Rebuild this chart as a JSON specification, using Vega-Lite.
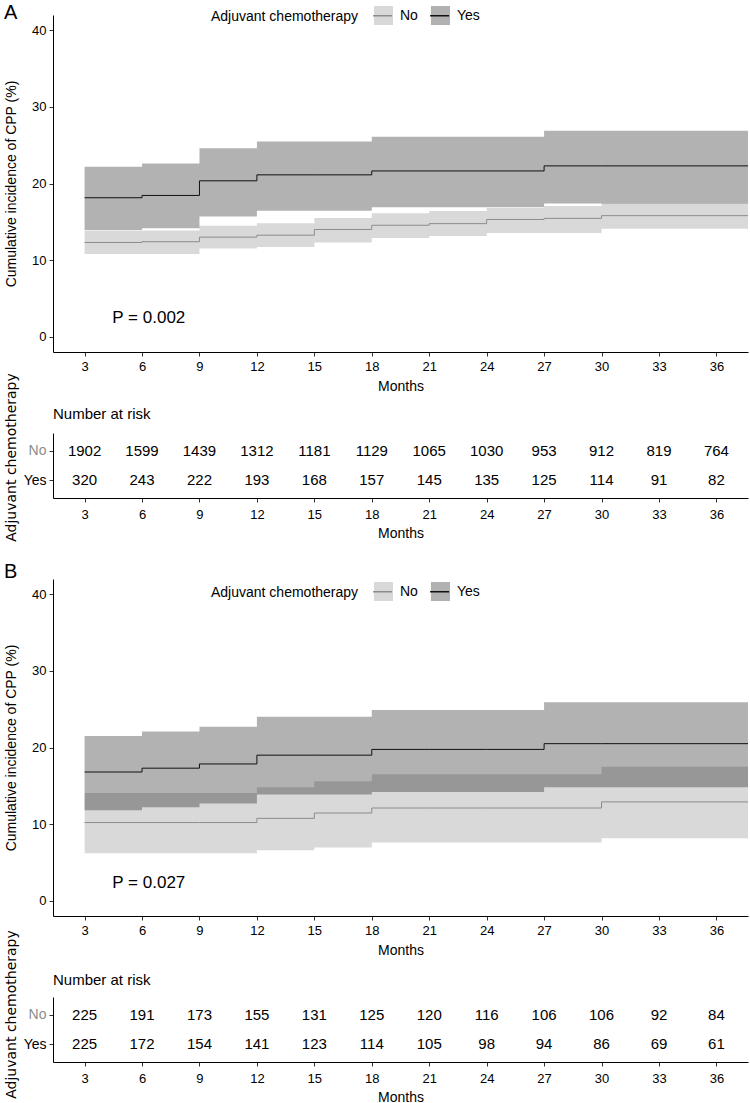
{
  "$schema": "https://vega.github.io/schema/vega-lite/v6.json",
  "background": "white",
  "padding": {"left": 3, "top": 3, "right": 3, "bottom": 3},
  "config": {
    "font": "Liberation Sans",
    "view": {"stroke": null},
    "axis": {"grid": false, "domainColor": "#000000", "domainWidth": 1, "tickColor": "#333333", "tickSize": 4, "labelColor": "#000000", "labelFontSize": 13, "labelPadding": 3, "titleFontSize": 14, "titleFontWeight": "normal", "titleColor": "#000000", "labelFont": "Liberation Sans", "titleFont": "Liberation Sans"},
    "title": {"fontWeight": "normal", "color": "#000000", "font": "Liberation Sans"},
    "legend": {"labelFontSize": 14, "titleFontSize": 14, "titleFontWeight": "normal", "labelColor": "#000000", "titleColor": "#000000", "labelFont": "Liberation Sans", "titleFont": "Liberation Sans"}
  },
  "datasets": {
    "curveA": [
      {"group": "No", "month": 3, "est": 12.3, "lower": 10.8, "upper": 13.8},
      {"group": "No", "month": 6, "est": 12.4, "lower": 10.8, "upper": 13.85},
      {"group": "No", "month": 9, "est": 13.0, "lower": 11.5, "upper": 14.5},
      {"group": "No", "month": 12, "est": 13.25, "lower": 11.7, "upper": 14.8},
      {"group": "No", "month": 15, "est": 14.0, "lower": 12.3, "upper": 15.5},
      {"group": "No", "month": 18, "est": 14.55, "lower": 12.9, "upper": 16.1},
      {"group": "No", "month": 21, "est": 14.76, "lower": 13.15, "upper": 16.4},
      {"group": "No", "month": 24, "est": 15.3, "lower": 13.55, "upper": 16.8},
      {"group": "No", "month": 27, "est": 15.45, "lower": 13.55, "upper": 17.05},
      {"group": "No", "month": 30, "est": 15.8, "lower": 14.1, "upper": 17.45},
      {"group": "No", "month": 37.65, "est": 15.8, "lower": 14.1, "upper": 17.45},
      {"group": "Yes", "month": 3, "est": 18.14, "lower": 13.9, "upper": 22.2},
      {"group": "Yes", "month": 6, "est": 18.44, "lower": 14.15, "upper": 22.6},
      {"group": "Yes", "month": 9, "est": 20.35, "lower": 15.7, "upper": 24.6},
      {"group": "Yes", "month": 12, "est": 21.13, "lower": 16.45, "upper": 25.5},
      {"group": "Yes", "month": 15, "est": 21.13, "lower": 16.45, "upper": 25.5},
      {"group": "Yes", "month": 18, "est": 21.64, "lower": 16.9, "upper": 26.1},
      {"group": "Yes", "month": 21, "est": 21.64, "lower": 16.9, "upper": 26.1},
      {"group": "Yes", "month": 24, "est": 21.64, "lower": 16.9, "upper": 26.1},
      {"group": "Yes", "month": 27, "est": 22.3, "lower": 17.4, "upper": 26.9},
      {"group": "Yes", "month": 30, "est": 22.3, "lower": 17.4, "upper": 26.9},
      {"group": "Yes", "month": 37.65, "est": 22.3, "lower": 17.4, "upper": 26.9}
    ],
    "curveB": [
      {"group": "No", "month": 3, "est": 10.2, "lower": 6.2, "upper": 14.05},
      {"group": "No", "month": 6, "est": 10.2, "lower": 6.2, "upper": 14.05},
      {"group": "No", "month": 9, "est": 10.2, "lower": 6.2, "upper": 14.05},
      {"group": "No", "month": 12, "est": 10.75, "lower": 6.6, "upper": 14.8},
      {"group": "No", "month": 15, "est": 11.45, "lower": 6.95, "upper": 15.6},
      {"group": "No", "month": 18, "est": 12.1, "lower": 7.6, "upper": 16.5},
      {"group": "No", "month": 21, "est": 12.1, "lower": 7.6, "upper": 16.5},
      {"group": "No", "month": 24, "est": 12.1, "lower": 7.6, "upper": 16.5},
      {"group": "No", "month": 27, "est": 12.1, "lower": 7.6, "upper": 16.5},
      {"group": "No", "month": 30, "est": 12.9, "lower": 8.15, "upper": 17.5},
      {"group": "No", "month": 37.65, "est": 12.9, "lower": 8.15, "upper": 17.5},
      {"group": "Yes", "month": 3, "est": 16.8, "lower": 11.8, "upper": 21.5},
      {"group": "Yes", "month": 6, "est": 17.3, "lower": 12.2, "upper": 22.1},
      {"group": "Yes", "month": 9, "est": 17.85, "lower": 12.7, "upper": 22.7},
      {"group": "Yes", "month": 12, "est": 19.0, "lower": 13.85, "upper": 24.0},
      {"group": "Yes", "month": 15, "est": 19.0, "lower": 13.85, "upper": 24.0},
      {"group": "Yes", "month": 18, "est": 19.75, "lower": 14.2, "upper": 24.9},
      {"group": "Yes", "month": 21, "est": 19.75, "lower": 14.2, "upper": 24.9},
      {"group": "Yes", "month": 24, "est": 19.75, "lower": 14.2, "upper": 24.9},
      {"group": "Yes", "month": 27, "est": 20.5, "lower": 14.8, "upper": 25.9},
      {"group": "Yes", "month": 30, "est": 20.5, "lower": 14.8, "upper": 25.9},
      {"group": "Yes", "month": 37.65, "est": 20.5, "lower": 14.8, "upper": 25.9}
    ],
    "annotA": [{"month": 4.45, "value": 2.5, "label": "P = 0.002"}],
    "annotB": [{"month": 4.45, "value": 2.3, "label": "P = 0.027"}],
    "riskA": [
      {"group": "No", "month": 3, "n": "1902"}, {"group": "No", "month": 6, "n": "1599"}, {"group": "No", "month": 9, "n": "1439"}, {"group": "No", "month": 12, "n": "1312"}, {"group": "No", "month": 15, "n": "1181"}, {"group": "No", "month": 18, "n": "1129"}, {"group": "No", "month": 21, "n": "1065"}, {"group": "No", "month": 24, "n": "1030"}, {"group": "No", "month": 27, "n": "953"}, {"group": "No", "month": 30, "n": "912"}, {"group": "No", "month": 33, "n": "819"}, {"group": "No", "month": 36, "n": "764"},
      {"group": "Yes", "month": 3, "n": "320"}, {"group": "Yes", "month": 6, "n": "243"}, {"group": "Yes", "month": 9, "n": "222"}, {"group": "Yes", "month": 12, "n": "193"}, {"group": "Yes", "month": 15, "n": "168"}, {"group": "Yes", "month": 18, "n": "157"}, {"group": "Yes", "month": 21, "n": "145"}, {"group": "Yes", "month": 24, "n": "135"}, {"group": "Yes", "month": 27, "n": "125"}, {"group": "Yes", "month": 30, "n": "114"}, {"group": "Yes", "month": 33, "n": "91"}, {"group": "Yes", "month": 36, "n": "82"}
    ],
    "riskB": [
      {"group": "No", "month": 3, "n": "225"}, {"group": "No", "month": 6, "n": "191"}, {"group": "No", "month": 9, "n": "173"}, {"group": "No", "month": 12, "n": "155"}, {"group": "No", "month": 15, "n": "131"}, {"group": "No", "month": 18, "n": "125"}, {"group": "No", "month": 21, "n": "120"}, {"group": "No", "month": 24, "n": "116"}, {"group": "No", "month": 27, "n": "106"}, {"group": "No", "month": 30, "n": "106"}, {"group": "No", "month": 33, "n": "92"}, {"group": "No", "month": 36, "n": "84"},
      {"group": "Yes", "month": 3, "n": "225"}, {"group": "Yes", "month": 6, "n": "172"}, {"group": "Yes", "month": 9, "n": "154"}, {"group": "Yes", "month": 12, "n": "141"}, {"group": "Yes", "month": 15, "n": "123"}, {"group": "Yes", "month": 18, "n": "114"}, {"group": "Yes", "month": 21, "n": "105"}, {"group": "Yes", "month": 24, "n": "98"}, {"group": "Yes", "month": 27, "n": "94"}, {"group": "Yes", "month": 30, "n": "86"}, {"group": "Yes", "month": 33, "n": "69"}, {"group": "Yes", "month": 36, "n": "61"}
    ]
  },
  "bounds": "flush",
  "spacing": 81,
  "resolve": {"scale": {"fill": "independent", "stroke": "independent", "x": "independent", "y": "independent"}},
  "vconcat": [
    {
      "title": {"text": "A", "anchor": "start", "frame": "bounds", "fontSize": 20, "offset": 0, "dy": 18},
      "width": 695,
      "height": 337,
      "layer": [
        {
          "data": {"name": "curveA"},
          "mark": {"type": "area", "interpolate": "step-after", "fillOpacity": 0.3},
          "encoding": {
            "x": {"field": "month", "type": "quantitative", "scale": {"domain": [1.35, 37.65], "nice": false, "zero": false}, "axis": {"values": [3, 6, 9, 12, 15, 18, 21, 24, 27, 30, 33, 36], "title": "Months", "labelPadding": 4, "titlePadding": 6}},
            "y": {"field": "lower", "type": "quantitative", "scale": {"domain": [-2, 42], "nice": false, "zero": false}, "axis": {"values": [0, 10, 20, 30, 40], "title": "Cumulative incidence of CPP (%)", "titleX": -42, "titleY": 168.5, "titleBaseline": "middle", "titleAlign": "center", "titleAngle": 270}},
            "y2": {"field": "upper"},
            "fill": {"field": "group", "type": "nominal", "scale": {"domain": ["No", "Yes"], "range": ["#808080", "#000000"]},
              "legend": {"title": "Adjuvant chemotherapy", "orient": "none", "legendX": 158, "legendY": -10, "direction": "horizontal", "titleOrient": "left", "titleBaseline": "middle", "titlePadding": 14, "symbolType": "M-1,-1H1V1H-1Z", "symbolSize": 361, "symbolOpacity": 0.3, "symbolStrokeColor": "transparent", "symbolStrokeWidth": 1.5, "labelOffset": 6, "columnPadding": 10}}
          }
        },
        {
          "data": {"name": "curveA"},
          "mark": {"type": "line", "interpolate": "step-after", "strokeWidth": 1},
          "encoding": {
            "x": {"field": "month", "type": "quantitative"},
            "y": {"field": "est", "type": "quantitative"},
            "stroke": {"field": "group", "type": "nominal", "scale": {"range": ["#8c8c8c", "#111111"]},
              "legend": {"title": null, "labelOpacity": 0, "orient": "none", "legendX": 319.1, "legendY": -10, "direction": "horizontal", "symbolType": "M-1,0H1", "symbolSize": 361, "symbolStrokeWidth": 1.5, "labelOffset": 6, "columnPadding": 10}}
          }
        },
        {
          "data": {"name": "annotA"},
          "mark": {"type": "text", "align": "left", "baseline": "middle", "fontSize": 17, "color": "#000000"},
          "encoding": {
            "x": {"field": "month", "type": "quantitative"},
            "y": {"field": "value", "type": "quantitative"},
            "text": {"field": "label", "type": "nominal"}
          }
        }
      ]
    },
    {
      "title": {"text": "Number at risk", "anchor": "start", "frame": "group", "fontSize": 15, "offset": 9, "dy": 58},
      "width": 695,
      "height": 65,
      "data": {"name": "riskA"},
      "mark": {"type": "text", "fontSize": 15, "color": "#000000"},
      "encoding": {
        "x": {"field": "month", "type": "quantitative", "scale": {"domain": [1.35, 37.65], "nice": false, "zero": false}, "axis": {"values": [3, 6, 9, 12, 15, 18, 21, 24, 27, 30, 33, 36], "title": "Months", "labelPadding": 6, "titlePadding": 5}},
        "y": {"field": "group", "type": "nominal", "scale": {"type": "point", "domain": ["No", "Yes"], "padding": 0.6}, "axis": {"title": "Adjuvant chemotherapy", "titleFont": "DejaVu Sans", "titleFontSize": 14, "titleX": -42, "titleY": 24, "titleBaseline": "middle", "titleAlign": "center", "titleAngle": 270, "labelFontSize": 14, "labelColor": {"condition": {"test": "datum.value === 'No'", "value": "#8c8c8c"}, "value": "#000000"}}},
        "text": {"field": "n", "type": "nominal"}
      }
    },
    {
      "title": {"text": "B", "anchor": "start", "frame": "bounds", "fontSize": 20, "offset": 0, "dy": 3},
      "width": 695,
      "height": 337,
      "layer": [
        {
          "data": {"name": "curveB"},
          "mark": {"type": "area", "interpolate": "step-after", "fillOpacity": 0.3},
          "encoding": {
            "x": {"field": "month", "type": "quantitative", "scale": {"domain": [1.35, 37.65], "nice": false, "zero": false}, "axis": {"values": [3, 6, 9, 12, 15, 18, 21, 24, 27, 30, 33, 36], "title": "Months", "labelPadding": 4, "titlePadding": 6}},
            "y": {"field": "lower", "type": "quantitative", "scale": {"domain": [-2, 42], "nice": false, "zero": false}, "axis": {"values": [0, 10, 20, 30, 40], "title": "Cumulative incidence of CPP (%)", "titleX": -42, "titleY": 168.5, "titleBaseline": "middle", "titleAlign": "center", "titleAngle": 270}},
            "y2": {"field": "upper"},
            "fill": {"field": "group", "type": "nominal", "scale": {"domain": ["No", "Yes"], "range": ["#808080", "#000000"]},
              "legend": {"title": "Adjuvant chemotherapy", "orient": "none", "legendX": 158, "legendY": 2, "direction": "horizontal", "titleOrient": "left", "titleBaseline": "middle", "titlePadding": 14, "symbolType": "M-1,-1H1V1H-1Z", "symbolSize": 361, "symbolOpacity": 0.3, "symbolStrokeColor": "transparent", "symbolStrokeWidth": 1.5, "labelOffset": 6, "columnPadding": 10}}
          }
        },
        {
          "data": {"name": "curveB"},
          "mark": {"type": "line", "interpolate": "step-after", "strokeWidth": 1},
          "encoding": {
            "x": {"field": "month", "type": "quantitative"},
            "y": {"field": "est", "type": "quantitative"},
            "stroke": {"field": "group", "type": "nominal", "scale": {"range": ["#8c8c8c", "#111111"]},
              "legend": {"title": null, "labelOpacity": 0, "orient": "none", "legendX": 319.1, "legendY": 2, "direction": "horizontal", "symbolType": "M-1,0H1", "symbolSize": 361, "symbolStrokeWidth": 1.5, "labelOffset": 6, "columnPadding": 10}}
          }
        },
        {
          "data": {"name": "annotB"},
          "mark": {"type": "text", "align": "left", "baseline": "middle", "fontSize": 17, "color": "#000000"},
          "encoding": {
            "x": {"field": "month", "type": "quantitative"},
            "y": {"field": "value", "type": "quantitative"},
            "text": {"field": "label", "type": "nominal"}
          }
        }
      ]
    },
    {
      "title": {"text": "Number at risk", "anchor": "start", "frame": "group", "fontSize": 15, "offset": 9, "dy": 67},
      "width": 695,
      "height": 65,
      "data": {"name": "riskB"},
      "mark": {"type": "text", "fontSize": 15, "color": "#000000"},
      "encoding": {
        "x": {"field": "month", "type": "quantitative", "scale": {"domain": [1.35, 37.65], "nice": false, "zero": false}, "axis": {"values": [3, 6, 9, 12, 15, 18, 21, 24, 27, 30, 33, 36], "title": "Months", "labelPadding": 6, "titlePadding": 5}},
        "y": {"field": "group", "type": "nominal", "scale": {"type": "point", "domain": ["No", "Yes"], "padding": 0.6}, "axis": {"title": "Adjuvant chemotherapy", "titleFont": "DejaVu Sans", "titleFontSize": 14, "titleX": -42, "titleY": 17, "titleBaseline": "middle", "titleAlign": "center", "titleAngle": 270, "labelFontSize": 14, "labelColor": {"condition": {"test": "datum.value === 'No'", "value": "#8c8c8c"}, "value": "#000000"}}},
        "text": {"field": "n", "type": "nominal"}
      }
    }
  ]
}
